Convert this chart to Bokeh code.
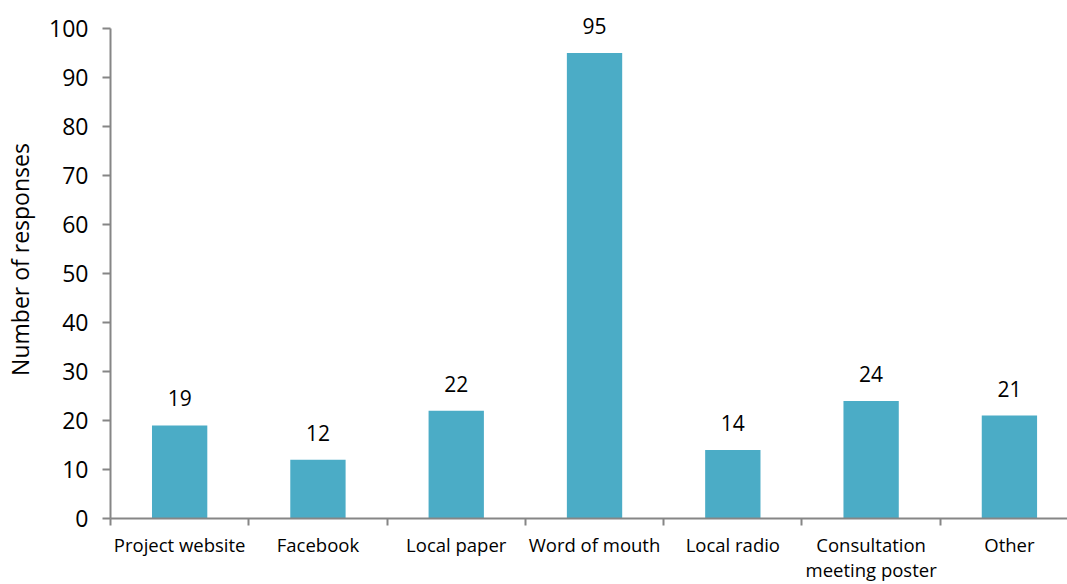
from bokeh.plotting import figure
from bokeh.models import ColumnDataSource, FixedTicker, LabelSet, Range1d
from bokeh.core.properties import value
from bokeh.embed import file_html
from bokeh.resources import INLINE

categories = ["Project website", "Facebook", "Local paper", "Word of mouth",
              "Local radio", "Consultation\nmeeting poster", "Other"]
values = [19, 12, 22, 95, 14, 24, 21]
y_ticks = list(range(0, 101, 10))

centers = [i + 0.5 for i in range(len(categories))]
boundaries = list(range(len(categories) + 1))

FONT = "Open Sans"
AXIS = "#868686"
BAR = "#4BACC6"

src = ColumnDataSource(dict(x=centers, top=values, lab=[str(v) for v in values]))

p = figure(width=1067, height=584, output_backend="svg", toolbar_location=None,
           x_range=Range1d(0, 6.92), y_range=Range1d(0, 105.7),
           min_border_left=110, min_border_right=0, min_border_top=0, min_border_bottom=60)
p.outline_line_color = None
p.xgrid.visible = False
p.ygrid.visible = False
p.background_fill_color = "white"

p.vbar(x="x", top="top", width=0.4, source=src, fill_color=BAR, line_color=None)

labels = LabelSet(x="x", y="top", text="lab", source=src, text_align="center",
                  text_baseline="middle", y_offset=27, text_font=value(FONT),
                  text_font_size="21px", text_color="black")
p.add_layout(labels)

p.xaxis.ticker = FixedTicker(ticks=centers, minor_ticks=boundaries)
p.xaxis.major_label_overrides = {c: lab for c, lab in zip(centers, categories)}
p.xaxis.major_tick_out = 0
p.xaxis.major_tick_in = 0
p.xaxis.minor_tick_out = 7
p.xaxis.minor_tick_in = 0
p.xaxis.axis_line_color = AXIS
p.xaxis.minor_tick_line_color = AXIS
p.xaxis.axis_line_width = 2
p.xaxis.minor_tick_line_width = 2
p.xaxis.major_label_text_font = FONT
p.xaxis.major_label_text_font_size = "18.5px"
p.xaxis.major_label_text_color = "black"
p.xaxis.major_label_text_line_height = 1.0
p.xaxis.major_label_standoff = 6

p.yaxis.ticker = FixedTicker(ticks=y_ticks)
p.yaxis.bounds = (0, 100)
p.yaxis.minor_tick_line_color = None
p.yaxis.major_tick_out = 8
p.yaxis.major_tick_in = 0
p.yaxis.axis_line_color = AXIS
p.yaxis.major_tick_line_color = AXIS
p.yaxis.axis_line_width = 2
p.yaxis.major_tick_line_width = 2
p.yaxis.major_label_text_font = FONT
p.yaxis.major_label_text_font_size = "23px"
p.yaxis.major_label_text_color = "black"
p.yaxis.major_label_standoff = 14
p.yaxis.axis_label = "Number of responses"
p.yaxis.axis_label_text_font = FONT
p.yaxis.axis_label_text_font_size = "23px"
p.yaxis.axis_label_text_font_style = "normal"
p.yaxis.axis_label_text_color = "black"
p.yaxis.axis_label_standoff = 10

open("out.html", "w").write(file_html(p, INLINE))
